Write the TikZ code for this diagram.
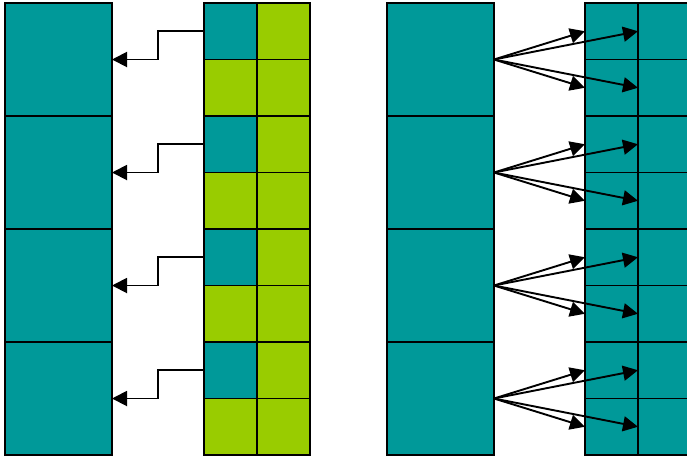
\documentclass[tikz,border=0pt]{standalone}
\usetikzlibrary{arrows.meta,calc}
\definecolor{teal1}{RGB}{0,153,153}
\definecolor{lime1}{RGB}{153,204,0}
\begin{document}
\begin{tikzpicture}[x=1pt,y=-1pt,line width=1.9pt,
  big/.style={draw,fill=teal1,minimum width=107pt,minimum height=113pt,inner sep=0pt,outer sep=0pt,anchor=north west},
  cell/.style={draw,minimum width=53pt,minimum height=56.5pt,inner sep=0pt,outer sep=0pt,anchor=north west},
  tcell/.style={cell,fill=teal1},
  gcell/.style={cell,fill=lime1},
  arr/.style={-{Triangle[length=15pt,width=15pt]},line width=1.9pt}]
\useasboundingbox (0,0) rectangle (687,456);
\clip (0,0) rectangle (687,456);
% big boxes
\foreach \i in {1,...,4}{
  \node[big] (L\i) at (5,{3+113*(\i-1)}) {};
  \node[big] (R\i) at (387,{3+113*(\i-1)}) {};
}
% middle grid
\foreach \r in {1,...,8}{
  \pgfmathtruncatemacro{\odd}{mod(\r,2)}
  \ifnum\odd=1
    \node[tcell] (M\r a) at (204,{3+56.5*(\r-1)}) {};
  \else
    \node[gcell] (M\r a) at (204,{3+56.5*(\r-1)}) {};
  \fi
  \node[gcell] (M\r b) at (257,{3+56.5*(\r-1)}) {};
  \node[tcell] (P\r a) at (585,{3+56.5*(\r-1)}) {};
  \node[tcell] (P\r b) at (638,{3+56.5*(\r-1)}) {};
}
% connectors
\foreach \i in {1,...,4}{
  \pgfmathtruncatemacro{\ra}{2*\i-1}
  \pgfmathtruncatemacro{\rb}{2*\i}
  \draw[arr] (M\ra a.west) -| ($(M\ra a.west)!.5!(L\i.east)$) |- (L\i.east);
  \draw[arr] (R\i.east) -- (P\ra a.west);
  \draw[arr] (R\i.east) -- (P\ra b.west);
  \draw[arr] (R\i.east) -- (P\rb a.west);
  \draw[arr] (R\i.east) -- (P\rb b.west);
}
\end{tikzpicture}
\end{document}
